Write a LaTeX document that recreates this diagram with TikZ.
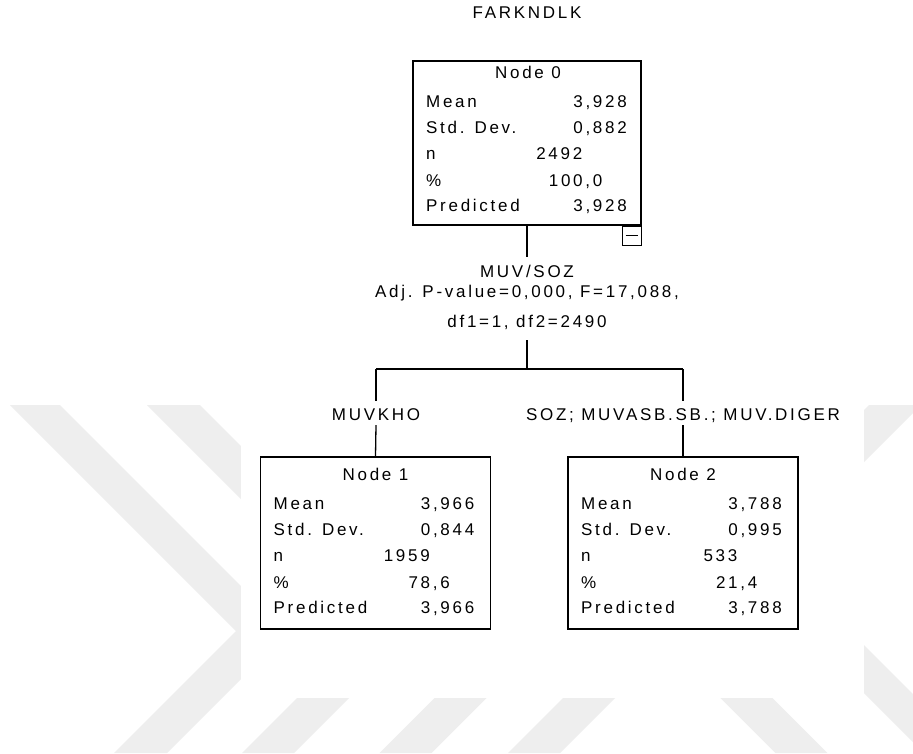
\documentclass[tikz,border=0pt]{standalone}
\usepackage{fontspec}
\newfontfamily\spssfont{Liberation Sans}[LetterSpace=16]
\definecolor{wm}{RGB}{238,238,238}
\tikzset{
  txt/.style={font=\spssfont\fontsize{17}{20}\selectfont, inner sep=0pt, text height=12.2pt, text depth=0pt},
  box/.style={draw, line width=1.3pt, inner sep=0pt},
  conn/.style={line width=1.3pt},
}
\newcommand\boxstats[9]{%
  \node[txt, anchor=base] (#1t) at (#2+115,#3) {#9};
  \node[txt, anchor=base west] (#1ml) at (#2+13,#3+29) {Mean};
  \node[txt, anchor=base east] (#1mv) at (#2+214,#3+29) {#4};
  \node[txt, anchor=base west] (#1sl) at (#2+13,#3+55.5) {Std. Dev.};
  \node[txt, anchor=base east] (#1sv) at (#2+214,#3+55.5) {#5};
  \node[txt, anchor=base west] (#1nl) at (#2+13,#3+81.5) {n};
  \node[txt, anchor=base east] (#1nv) at (#2+169.5,#3+81.5) {#6};
  \node[txt, anchor=base west] (#1pl) at (#2+13,#3+108) {\%};
  \node[txt, anchor=base east] (#1pv) at (#2+189.5,#3+108) {#7};
  \node[txt, anchor=base west] (#1rl) at (#2+13,#3+133.3) {Predicted};
  \node[txt, anchor=base east] (#1rv) at (#2+214,#3+133.3) {#8};
}
\begin{document}
\begin{tikzpicture}[x=1pt,y=-1pt]
\fill[white] (0,0) rectangle (913,753);
\useasboundingbox (0,0) rectangle (913,753);
% watermark
\begin{scope}
\clip (0,405) rectangle (913,753);
\fill[wm] (10,405) -- (60,405) -- (287.5,632.5) -- (167,753) -- (114,753) -- (236,631) -- cycle;
\fill[wm] (147,405) -- (200,405) -- (421,626) -- (294,753) -- (242,753) -- (368.5,626.5) -- cycle;
\fill[wm] (442.5,690) -- (494.5,690) -- (431.5,753) -- (379.5,753) -- cycle;
\fill[wm] (571,690) -- (623,690) -- (560,753) -- (508,753) -- cycle;
\fill[wm] (712.5,690) -- (764.5,690) -- (827.5,753) -- (775.5,753) -- cycle;
\fill[wm] (722.5,551.5) -- (869,405) -- (921,405) -- (772.5,553.5) -- (972,753) -- (924,753) -- cycle;
\end{scope}
\fill[white] (241,400) rectangle (864,698);
% title
\node[txt, anchor=base] (title) at (527,18) {FARKNDLK};
% boxes
\node[box, minimum width=228pt, minimum height=164pt] (n0) at (527,143) {};
\node[box, line width=1pt, minimum size=19pt, anchor=north east] (n0tog) at (n0.south east) {};
\draw[line width=1pt] ([xshift=4pt]n0tog.west) -- ([xshift=-4pt]n0tog.east);
\boxstats{n0}{413}{78}{3,928}{0,882}{2492}{100,0}{3,928}{Node 0}
\node[box, minimum width=230pt, minimum height=172pt] (n1) at (375.5,543) {};
\boxstats{n1}{260.5}{480.4}{3,966}{0,844}{1959}{78,6}{3,966}{Node 1}
\node[box, minimum width=230pt, minimum height=172pt] (n2) at (683,543) {};
\boxstats{n2}{568}{480.4}{3,788}{0,995}{533}{21,4}{3,788}{Node 2}
% split labels
\node[txt, anchor=base] (s1) at (527,277) {MUV/SOZ};
\node[txt, anchor=base] (s2) at (527,297) {Adj. P-value=0,000, F=17,088,};
\node[txt, anchor=base] (s3) at (527,327) {df1=1, df2=2490};
\node[txt, anchor=base] (l1) at (376,420) {MUVKHO};
\node[txt, anchor=base] (l2) at (683,420) {SOZ; MUVASB.SB.; MUV.DIGER};
% connectors
\coordinate (barc) at (527,369);
\coordinate (barl) at (376,369);
\coordinate (barr) at (683,369);
\draw[conn] (n0.south) -- ([yshift=8pt]s1.north);
\draw[conn] ([yshift=-13pt]s3.south) -- (barc);
\draw[conn] (barl) -- (barr);
\draw[conn] (barl) -- ([yshift=7pt]l1.north);
\draw[conn] (barr) -- ([yshift=7pt]l2.north);
\draw[conn] ([yshift=-5pt]l1.south) -- (n1.north);
\draw[conn] ([yshift=-5pt]l2.south) -- (n2.north);
\end{tikzpicture}
\end{document}
